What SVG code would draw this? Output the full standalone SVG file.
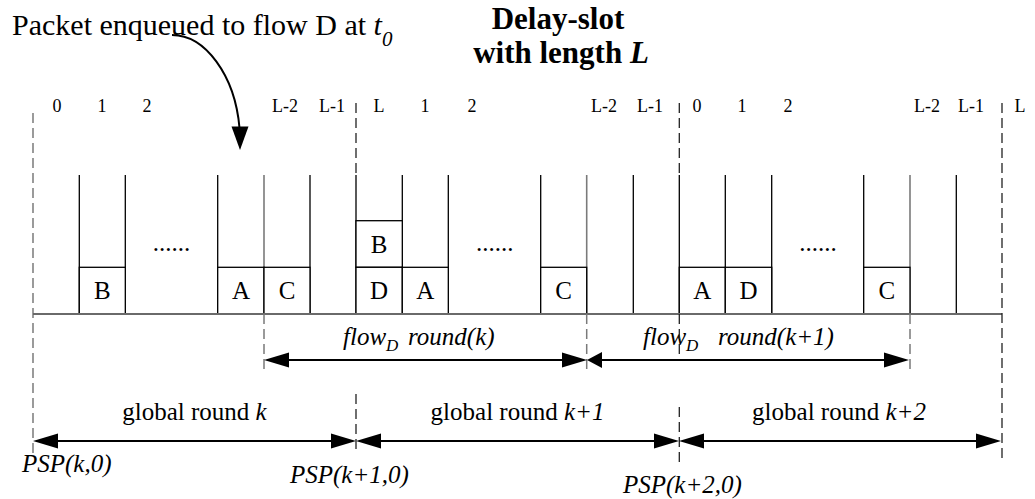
<svg xmlns="http://www.w3.org/2000/svg" width="1035" height="499" viewBox="0 0 1035 499">
<style>
text{font-family:"Liberation Serif","Times New Roman",serif;fill:#000}
.lab{font-size:18px;text-anchor:middle}
.big{font-size:30px}
.bold{font-size:31px;font-weight:bold;text-anchor:middle}
.t25{font-size:25px}
.mid{text-anchor:middle}
.it{font-style:italic}
.wall{stroke:#000;stroke-width:1.3;fill:none}
.gwall{stroke:#7a7a7a;stroke-width:1.6;fill:none}
.box{stroke:#000;stroke-width:1.3;fill:#fff}
.dash{stroke:#222;stroke-width:1.3;stroke-dasharray:10 5;fill:none}
.gdash{stroke:#7a7a7a;stroke-width:1.5;stroke-dasharray:10 5;fill:none}
.arr{stroke:#000;stroke-width:2;fill:none}
.head{fill:#000;stroke:none}
</style>

<g id="titles">
<text class="big" x="12" y="35">Packet enqueued to flow D at <tspan class="it">t</tspan><tspan class="it" font-size="21" dy="11">0</tspan></text>
<text class="bold" x="558" y="29">Delay-slot</text>
<text class="bold" x="561" y="63">with length <tspan font-style="italic">L</tspan></text>
</g>

<g id="slot-labels">
<text class="lab" x="57" y="112">0</text>
<text class="lab" x="102" y="112">1</text>
<text class="lab" x="147" y="112">2</text>
<text class="lab" x="285" y="112">L-2</text>
<text class="lab" x="332" y="112">L-1</text>
<text class="lab" x="379" y="112">L</text>
<text class="lab" x="425" y="112">1</text>
<text class="lab" x="472" y="112">2</text>
<text class="lab" x="604" y="112">L-2</text>
<text class="lab" x="650" y="112">L-1</text>
<text class="lab" x="697" y="112">0</text>
<text class="lab" x="742" y="112">1</text>
<text class="lab" x="788" y="112">2</text>
<text class="lab" x="927" y="112">L-2</text>
<text class="lab" x="971" y="112">L-1</text>
<text class="lab" x="1020" y="112">L</text>
</g>

<g id="round-k-slots">
<path class="wall" d="M79.3 175V314M125.3 175V314M217.7 175V314M310 175V314M356 175V314"/>
<path class="gwall" d="M264 175V314"/>
<rect class="box" x="79.3" y="267.3" width="46" height="46.7"/>
<rect class="box" x="217.7" y="267.3" width="46.3" height="46.7"/>
<rect class="box" x="264" y="267.3" width="46" height="46.7"/>
<text class="t25 mid" x="102.3" y="299">B</text>
<text class="t25 mid" x="241" y="299">A</text>
<text class="t25 mid" x="287" y="299">C</text>
<text class="t25 mid" x="171.5" y="251">......</text>
</g>

<g id="round-k1-slots">
<path class="wall" d="M402.3 175V314M448.3 175V314M540.7 175V314M633.3 175V314M679.3 175V314"/>
<path class="gwall" d="M586.7 175V314"/>
<rect class="box" x="356" y="220.7" width="46.3" height="46.6"/>
<rect class="box" x="356" y="267.3" width="46.3" height="46.7"/>
<rect class="box" x="402.3" y="267.3" width="46" height="46.7"/>
<rect class="box" x="540.7" y="267.3" width="46" height="46.7"/>
<text class="t25 mid" x="379" y="253">B</text>
<text class="t25 mid" x="379" y="299">D</text>
<text class="t25 mid" x="425.3" y="299">A</text>
<text class="t25 mid" x="563.7" y="299">C</text>
<text class="t25 mid" x="494.7" y="251">......</text>
</g>

<g id="round-k2-slots">
<path class="wall" d="M725.3 175V314M771.7 175V314M863.7 175V314M956.3 175V314"/>
<path class="gwall" d="M910 175V314"/>
<rect class="box" x="679.3" y="267.3" width="46" height="46.7"/>
<rect class="box" x="725.3" y="267.3" width="46.4" height="46.7"/>
<rect class="box" x="863.7" y="267.3" width="46.3" height="46.7"/>
<text class="t25 mid" x="702.3" y="299">A</text>
<text class="t25 mid" x="748.5" y="299">D</text>
<text class="t25 mid" x="886.8" y="299">C</text>
<text class="t25 mid" x="818" y="251">......</text>
</g>

<g id="timeline">
<path d="M33 314H1002" stroke="#6a6a6a" stroke-width="2"/>
</g>

<g id="labels">
<text class="t25 it" x="343" y="345">flow<tspan font-size="17" dy="6">D</tspan><tspan dy="-6" x="408">round(k)</tspan></text>
<text class="t25 it" x="643" y="345">flow<tspan font-size="17" dy="6">D</tspan><tspan dy="-6" x="718">round(k+1)</tspan></text>
<text class="t25 mid" x="194.5" y="420">global round <tspan class="it">k</tspan></text>
<text class="t25 mid" x="517.5" y="420">global round <tspan class="it">k+1</tspan></text>
<text class="t25 mid" x="839" y="420">global round <tspan class="it">k+2</tspan></text>
<text class="t25 it" x="22" y="472">PSP(k,0)</text>
<text class="t25 it" x="290" y="483">PSP(k+1,0)</text>
<text class="t25 it" x="623" y="493">PSP(k+2,0)</text>
</g>

<g id="connectors">
<path d="M33 113V455" stroke="#666" stroke-width="1.3" stroke-dasharray="10 5" fill="none"/>
<path class="dash" d="M356 103V175M356 394V450"/>
<path class="dash" d="M679.3 103V175M679.3 314V360M679.3 407V462"/>
<path class="dash" d="M1002 103V460"/>
<path class="gdash" d="M264 314V370M586.7 314V370M910 314V370"/>

<path class="arr" d="M288 360H562"/>
<path class="head" d="M264 360L289 352.5V367.5Z"/>
<path class="head" d="M587 360L562 352.5V367.5Z"/>
<path class="arr" d="M601 360H884"/>
<path class="head" d="M587 360L602 352V368Z"/>
<path class="head" d="M909 360L884 352.5V367.5Z"/>

<path class="arr" d="M57 441H332"/>
<path class="head" d="M33 441L58 433.5V448.5Z"/>
<path class="head" d="M356 441L331 433.5V448.5Z"/>
<path class="arr" d="M380 441H654"/>
<path class="head" d="M356 441L381 433.5V448.5Z"/>
<path class="head" d="M679 441L654 433.5V448.5Z"/>
<path class="arr" d="M703 441H976"/>
<path class="head" d="M679 441L704 433.5V448.5Z"/>
<path class="head" d="M1001 441L976 433.5V448.5Z"/>

<path class="arr" d="M172 35C205 35 235 75 239.5 128"/>
<path class="head" d="M240 150L231.5 126.5H248.5Z"/>
</g>
</svg>
